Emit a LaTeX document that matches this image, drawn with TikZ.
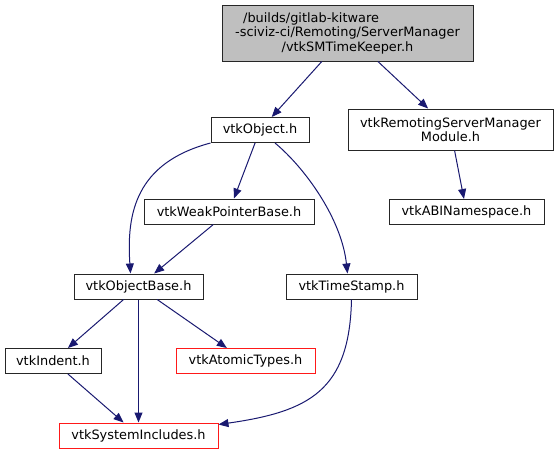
\documentclass[tikz,border=0pt]{standalone}
\usepackage{fontspec}
\setmainfont{DejaVu Sans}
\usetikzlibrary{arrows.meta}

\begin{document}
\begin{tikzpicture}[x=1pt,y=-1pt,
  file/.style={draw=black!85, line width=1pt, inner sep=0pt, minimum height=25pt,
    font=\fontsize{12.9}{14.5}\selectfont},
  missing/.style={file, draw=red!90},
  dep/.style={draw=navyline, line width=1pt, -{Triangle[length=10pt,width=8pt]}}]

\definecolor{navyline}{rgb}{0.10, 0.10, 0.44}
\definecolor{topgray}{rgb}{0.75, 0.75, 0.75}

\useasboundingbox (0,0) rectangle (559,455);

\node[file, fill=topgray, minimum width=251pt, minimum height=56pt, align=center]
  at (347.5,33) (top)
  {\rlap{\hspace{8pt}/builds/gitlab-kitware}\phantom{-sciviz-ci/Remoting/ServerManager}\\
   -sciviz-ci/Remoting/ServerManager\\ /vtkSMTimeKeeper.h};

\node[file, minimum width=98pt]  at (260,130)   (obj) {vtkObject.h};
\node[file, minimum width=205pt, minimum height=41pt, align=center]
  at (450.5,129.5) (rsm) {vtkRemotingServerManager\\ Module.h};
\node[file, minimum width=170pt] at (229,211.5) (wpb) {vtkWeakPointerBase.h};
\node[file, minimum width=155pt] at (466.5,212) (abi) {vtkABINamespace.h};
\node[file, minimum width=129pt] at (138.5,286.5) (ob) {vtkObjectBase.h};
\node[file, minimum width=131pt] at (351.5,286.5) (ts) {vtkTimeStamp.h};
\node[file, minimum width=96pt]  at (53,361)    (ind) {vtkIndent.h};
\node[missing, minimum width=139pt] at (245.5,361) (at) {vtkAtomicTypes.h};
\node[missing, minimum width=159pt] at (138.5,435.5) (si) {vtkSystemIncludes.h};

% straight includes
\draw[dep] (top) -- (obj);
\draw[dep] (top) -- (rsm);
\draw[dep] (obj) -- (wpb);
\draw[dep] (wpb) -- (ob);
\draw[dep] (rsm) -- (abi);
\draw[dep] (ob) -- (ind);
\draw[dep] (ob) -- (si);
\draw[dep] (ob) -- (at);
\draw[dep] (ind) -- (si);

% curved includes
\draw[dep] (obj.south west) .. controls +(-75,20) and +(-4,-60) .. ([xshift=-8pt]ob.north);
\draw[dep] ([xshift=15pt]obj.south) .. controls +(30,25) and +(-6,-55) .. ([xshift=-4pt]ts.north);
\draw[dep] (ts.south) .. controls +(-2,91) and +(91,-13) .. ([yshift=-2pt]si.north east);

\end{tikzpicture}
\end{document}
